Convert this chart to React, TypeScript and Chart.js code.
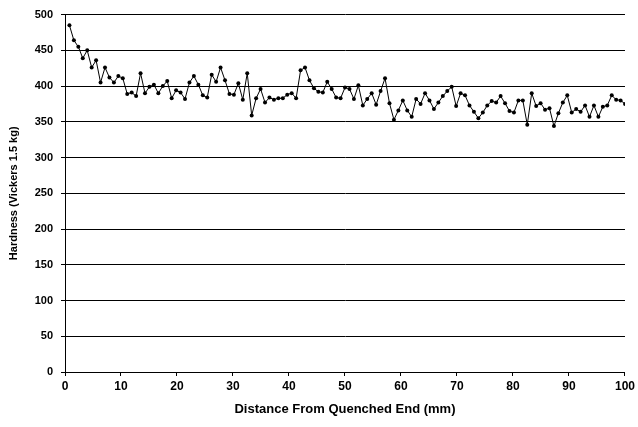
import { useEffect, useRef } from "react";
import { Chart, registerables } from "chart.js";

Chart.register(...registerables);

// Measurement spacing along the bar (1/32 inch in mm)
const STEP_MM = 0.79375;

// Hardness readings (Vickers 1.5 kg)
const hardness = [
  485, 464, 455, 439, 450, 426, 436, 405, 426, 412,
  405, 414, 411, 389, 391, 386, 418, 390, 399, 402,
  390, 400, 407, 383, 394, 391, 382, 405, 414, 402,
  387, 384, 416, 406, 426, 408, 389, 388, 404, 381,
  418, 359, 383, 396, 377, 384, 381, 383, 383, 388,
  390, 383, 422, 426, 408, 397, 392, 391, 406, 396,
  384, 383, 398, 396, 382, 401, 373, 382, 390, 374,
  393, 411, 376, 353, 366, 380, 366, 357, 382, 375,
  390, 380, 368, 377, 386, 393, 399, 372, 390, 387,
  373, 364, 355, 363, 373, 379, 377, 386, 376, 365,
  363, 380, 380, 346, 390, 372, 376, 367, 369, 344,
  362, 377, 387, 363, 368, 364, 373, 357, 373, 357,
  371, 373, 387, 381, 380, 375,
];

const xTicks = [0, 10, 20, 30, 40, 50, 60, 70, 80, 90, 100];
const yTicks = [0, 50, 100, 150, 200, 250, 300, 350, 400, 450, 500];

const xTitle = "Distance From Quenched End (mm)";
const yTitle = "Hardness (Vickers 1.5 kg)";

const FONT = "'Liberation Sans', Arial, sans-serif";

export default function App() {
  const canvasRef = useRef<HTMLCanvasElement | null>(null);

  useEffect(() => {
    document.body.style.margin = "0";
    const canvas = canvasRef.current;
    if (!canvas) return;
    const points = hardness.map((v, i) => ({ x: (i + 1) * STEP_MM, y: v }));
    const chart = new Chart(canvas, {
      type: "line",
      data: {
        datasets: [
          {
            data: points,
            borderColor: "#000",
            borderWidth: 1,
            pointRadius: 2,
            pointBackgroundColor: "#000",
            pointBorderColor: "#000",
            pointBorderWidth: 0,
            tension: 0,
            fill: false,
          },
        ],
      },
      options: {
        animation: false,
        responsive: false,
        layout: { padding: { left: 0, top: 13, right: 11, bottom: 0 } },
        plugins: {
          legend: { display: false },
          tooltip: { enabled: false },
        },
        scales: {
          x: {
            type: "linear",
            min: 0,
            max: 100,
            afterBuildTicks: (s: any) => {
              s.ticks = xTicks.map((v) => ({ value: v }));
            },
            afterFit: (s: any) => {
              s.height = 55;
            },
            ticks: {
              color: "#000",
              font: { family: FONT, weight: "bold", size: 12 },
              padding: 3,
              maxRotation: 0,
              autoSkip: false,
            },
            grid: {
              drawOnChartArea: false,
              drawTicks: true,
              tickLength: 4,
              color: "#000",
              lineWidth: 1,
            },
            border: { color: "#000", width: 1 },
            title: {
              display: true,
              text: xTitle,
              color: "#000",
              font: { family: FONT, weight: "bold", size: 13 },
              padding: { top: 0, bottom: 10 },
            },
          },
          y: {
            type: "linear",
            min: 0,
            max: 500,
            afterBuildTicks: (s: any) => {
              s.ticks = yTicks.map((v) => ({ value: v }));
            },
            afterFit: (s: any) => {
              s.width = 65;
            },
            ticks: {
              color: "#000",
              font: { family: FONT, weight: "bold", size: 11 },
              padding: 8,
            },
            grid: {
              drawTicks: true,
              tickLength: 4,
              color: "#000",
              lineWidth: 1,
            },
            border: { color: "#000", width: 1 },
            title: {
              display: true,
              text: yTitle,
              color: "#000",
              font: { family: FONT, weight: "bold", size: 11 },
              padding: { top: 7, bottom: 0 },
            },
          },
        },
      },
    } as any);
    return () => chart.destroy();
  }, []);

  return (
    <div style={{ position: "absolute", left: 0, top: 0, width: 638, height: 427, background: "#fff" }}>
      <canvas ref={canvasRef} width={638} height={427} />
    </div>
  );
}
